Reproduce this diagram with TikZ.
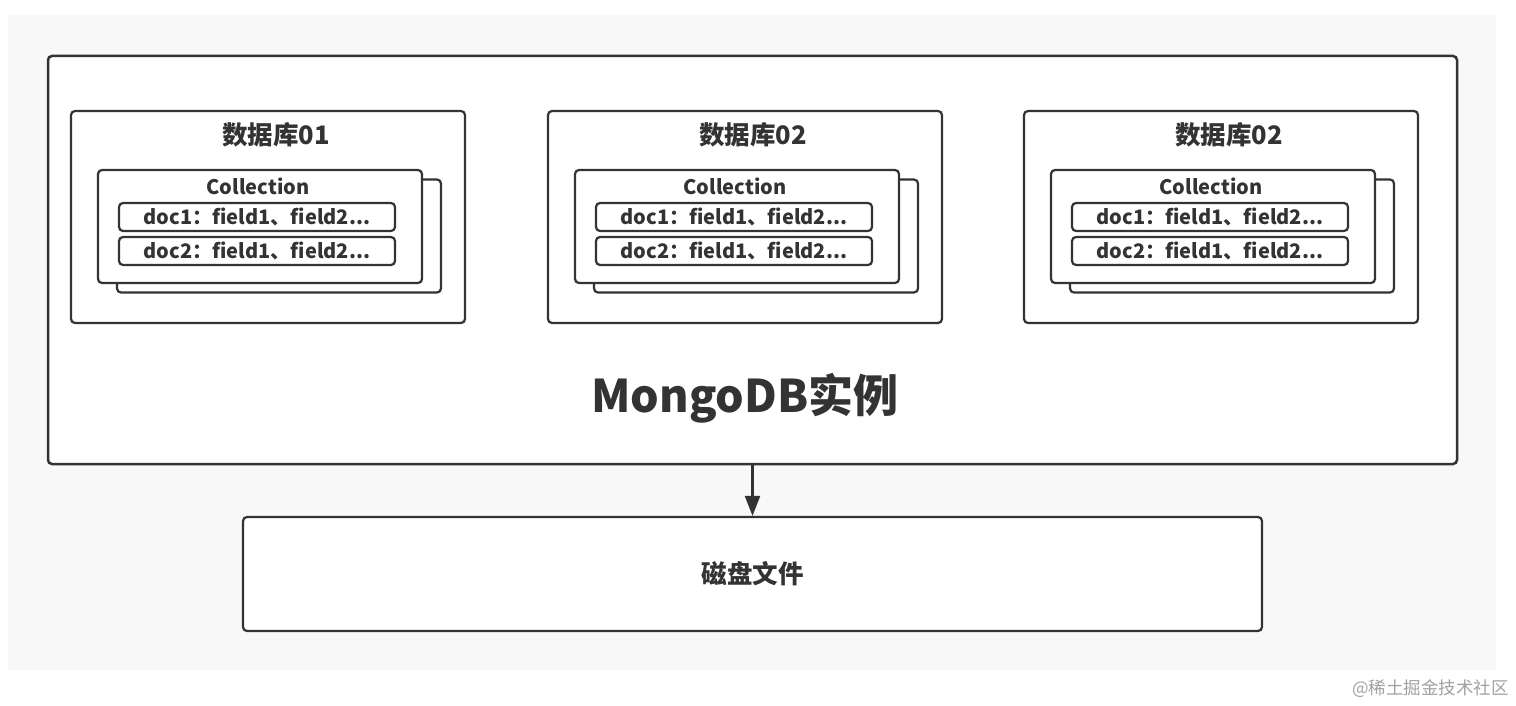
\documentclass[tikz,border=0pt]{standalone}
\usepackage{fontspec}
\setmainfont{Noto Sans CJK SC}
\usetikzlibrary{arrows.meta}
\definecolor{ln}{HTML}{333333}
\definecolor{bgc}{HTML}{F8F8F8}
\definecolor{wm}{HTML}{A0A0A0}
\begin{document}
\begin{tikzpicture}[x=1pt,y=-1pt,
  box/.style={draw=ln, line width=2.2pt, rounded corners=4pt, fill=white, inner sep=0pt},
  titletext/.style={text=ln, font=\bfseries\fontsize{25.5}{30}\selectfont, inner sep=0pt},
  smalltext/.style={text=ln, font=\bfseries\fontsize{20}{24}\selectfont, inner sep=0pt},
  docbox/.style={box, minimum width=276pt, minimum height=28pt, smalltext},
  link/.style={draw=ln, line width=2.2pt, -{Triangle[length=20pt,width=15pt]}}]
\useasboundingbox (0,0) rectangle (1516,706);
\fill[bgc] (8,15) rectangle (1496,670);
\node[box, line width=2.5pt, minimum width=1409pt, minimum height=408pt] (inst) at (752.5,260) {};
\node[text=ln, font=\bfseries\fontsize{45}{52}\selectfont, inner sep=0pt] (instlabel) at (745,398) {MongoDB实例};
\foreach \i/\x/\t in {1/71/01, 2/548/02, 3/1024/02}{
  \node[box, minimum width=394pt, minimum height=212pt] (db\i) at (\x+197,217) {};
  \node[titletext] (dbt\i) at (\x+205,135) {数据库\t};
  \node[box, minimum width=324pt, minimum height=113pt] (cb\i) at (\x+208,236) {};
  \node[box, minimum width=324pt, minimum height=113pt] (cf\i) at (\x+189,226.5) {};
  \node[smalltext] (cl\i) at (\x+187,186) {Collection};
  \node[docbox] (da\i) at (\x+186,217) {doc1：field1、field2...};
  \node[docbox] (dbb\i) at (\x+186,251) {doc2：field1、field2...};
}
\node[box, minimum width=1019pt, minimum height=114pt, titletext] (disk) at (752.5,574) {磁盘文件};
\draw[link] (inst.south) -- (disk.north);
\node[text=wm, font=\fontsize{17.5}{20}\selectfont, anchor=east, inner sep=0pt] (wmk) at (1509,689) {@稀土掘金技术社区};
\end{tikzpicture}
\end{document}
